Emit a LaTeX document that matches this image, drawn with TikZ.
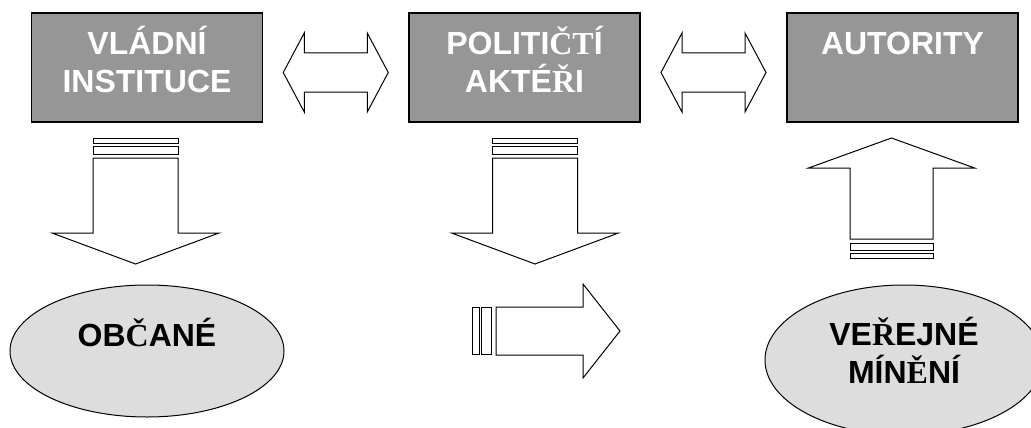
\documentclass[tikz,border=0pt]{standalone}
\usepackage{fontspec}
\setmainfont{Liberation Sans}
\newfontfamily\serifglyph{Liberation Serif}
\usetikzlibrary{shapes,calc}
\definecolor{boxgray}{RGB}{150,150,150}
\definecolor{ovalgray}{RGB}{221,221,221}
\newcommand{\fallback}[1]{{\serifglyph #1}}
\tikzstyle{actor}=[rectangle,draw=black,line width=1.2pt,fill=boxgray,text=white,
  font=\fontsize{32}{38}\selectfont\bfseries,text width=220pt,align=center,
  inner sep=0pt,text height=20pt,text depth=45pt,minimum width=231pt,minimum height=109pt]
\tikzstyle{public}=[ellipse,draw=black,line width=1pt,fill=ovalgray,
  font=\fontsize{32}{38}\selectfont\bfseries,text width=180pt,align=center,
  inner sep=0pt,text height=20pt,text depth=29pt,minimum width=274pt,minimum height=132pt]
\tikzstyle{blockarrow}=[draw=black,line width=1pt,fill=white,line join=miter]

\begin{document}
\begin{tikzpicture}[x=1pt,y=-1pt]
    \useasboundingbox (0,0) rectangle (1031,428);
    % First we draw the three actors on top
    \node[actor] (vladni) at (147,67.5) {VLÁDNÍ\\INSTITUCE};
    \node[actor] (politicti) at (524.5,67.5) {POLITI\fallback{ČT}Í\\AKTÉ\fallback{Ř}I};
    \node[actor] (autority) at (902.5,67.5) {AUTORITY};

    % Then the public below
    \node[public] (obcane) at (147,351) {OB\fallback{Č}ANÉ};
    \node[public,minimum width=278pt,minimum height=150pt,text depth=50pt] (mineni) at (904,360)
        {VE\fallback{Ř}EJNÉ\\MÍN\fallback{Ě}NÍ};

    % Two-way arrows between the boxes
    \coordinate (link1) at ($(vladni.east)!.5!(politicti.west)+(0,5)$);
    \coordinate (link2) at ($(politicti.east)!.5!(autority.west)+(0,5)$);
    \foreach \link in {link1,link2}
        \draw[blockarrow] ($(\link)+(-52.5,0)$) -- ++(21,-39.5) -- ++(0,20) -- ++(63,0) -- ++(0,-20)
            -- ++(21,39.5) -- ++(-21,39.5) -- ++(0,-20) -- ++(-63,0) -- ++(0,20) -- cycle;

    % Striped arrows going down
    \foreach \pos in {(135.5,138),(535,138)} {
        \draw[blockarrow] \pos ++(-42.5,0) rectangle ++(85,5);
        \draw[blockarrow] \pos ++(-42.5,8) rectangle ++(85,8);
        \draw[blockarrow] \pos ++(-42.5,20) -- ++(85,0) -- ++(0,75) -- ++(41,0)
            -- ++(-83.5,31) -- ++(-83.5,-31) -- ++(41,0) -- cycle;
    }

    % Striped arrow going up to the authorities
    \draw[blockarrow] (891.5,138) -- ++(83,30) -- ++(-41.5,0) -- ++(0,71) -- ++(-83,0)
        -- ++(0,-71) -- ++(-41.5,0) -- cycle;
    \draw[blockarrow] (850,243) rectangle ++(83,7);
    \draw[blockarrow] (850,253) rectangle ++(83,5);

    % Striped arrow to the right
    \draw[blockarrow] (472,307) rectangle ++(7,47);
    \draw[blockarrow] (481,307) rectangle ++(10,47);
    \draw[blockarrow] (496,307) -- ++(87,0) -- ++(0,-23) -- ++(37,47) -- ++(-37,47)
        -- ++(0,-23) -- ++(-87,0) -- cycle;
\end{tikzpicture}
\end{document}
